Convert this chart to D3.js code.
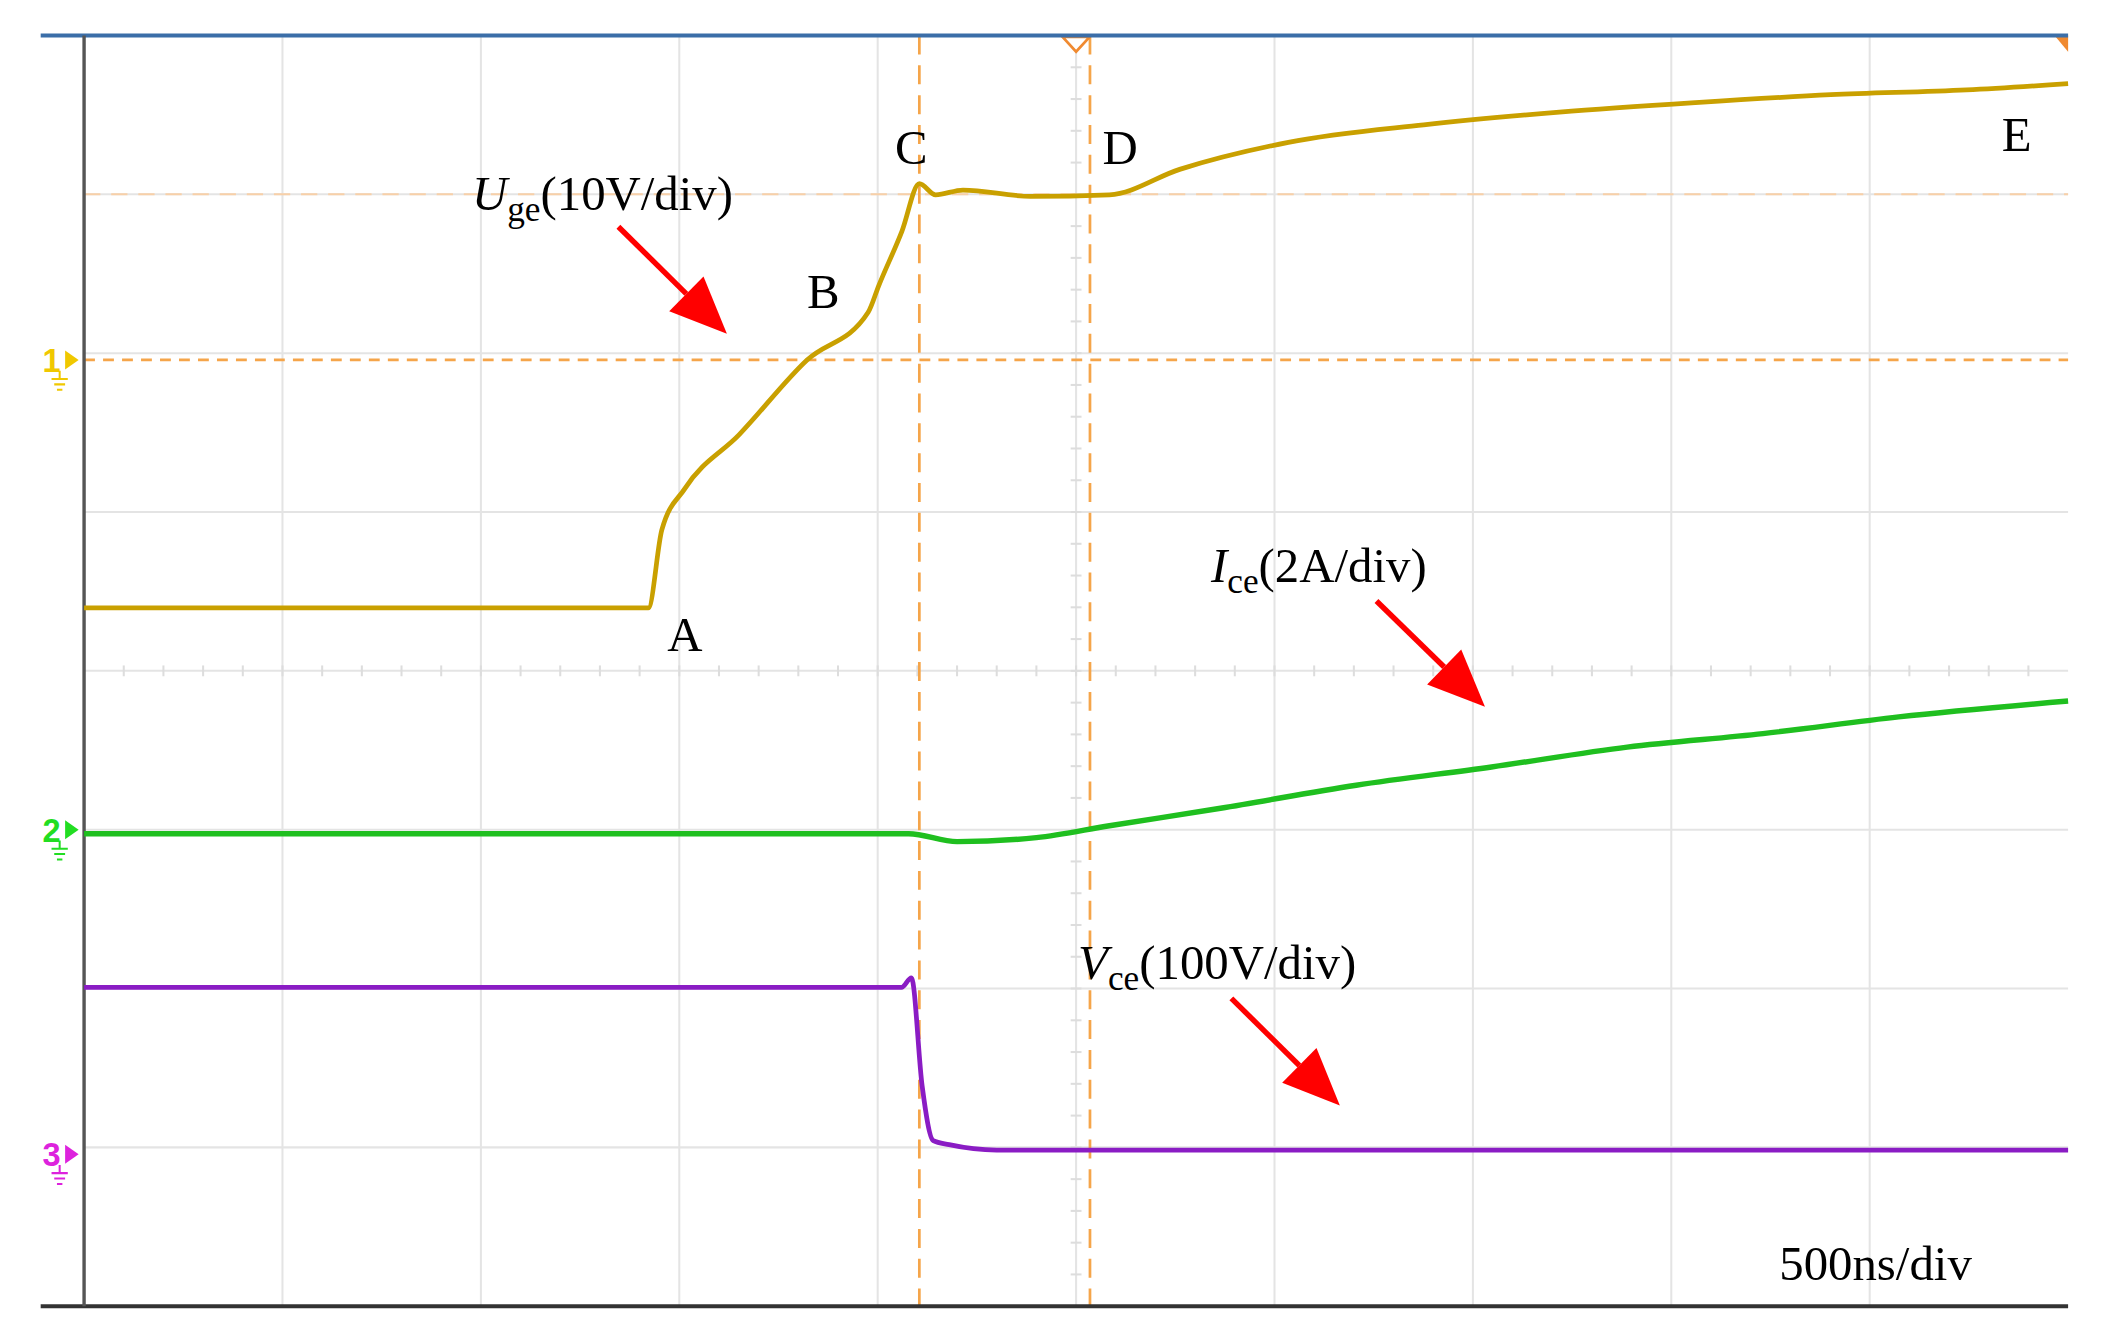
<!DOCTYPE html>
<html><head><meta charset="utf-8">
<script src="https://cdn.jsdelivr.net/npm/d3@7"></script>
<style>html,body{margin:0;background:#fff}</style></head>
<body><svg id="c" width="2102" height="1339" viewBox="0 0 1550 987"></svg>
<script>
// time in ns, values in physical units
const ugeT = [0,1422,1456,1514,1651,1822,1976,2003,2061,2105,2146,2215,2385,2584,2761,3035,3376,3718,4060,4402,4744,5000];
const ugeV = [-15.6,-15.6,-10.7,-8.1,-4.7,0,3.0,4.7,8.1,11.1,10.4,10.7,10.3,10.4,12.0,13.7,14.8,15.6,16.2,16.7,17.0,17.4];
const iceT = [0,2078,2200,2400,2584,2864,3206,3547,3889,4231,4573,5000];
const iceA = [-0.05,-0.05,-0.15,-0.1,0.05,0.27,0.56,0.79,1.04,1.21,1.42,1.62];
const vceT = [0,2060,2085,2112,2140,2180,2300,5000];
const vceV = [105,105,111,43,8.5,6,2.6,2.6];
const markLabels = ["A","B","C","D","E"];

const L=62,R=1525,T=26,B=963;
const svg=d3.select("#c");
const x=d3.scaleLinear().domain([0,5000]).range([L,R]);
const yDiv=d3.scaleLinear().domain([4,-4]).range([T,B]);
// ground offsets (in divisions from centre)
const g1=(494-265)/117, g2=(494-611)/117, g3=(494-850)/117;
const yU=v=>yDiv(g1+v/10), yI=a=>yDiv(g2+a/2), yV=v=>yDiv(g3+v/100);

const grid=svg.append("g").attr("stroke","#e4e4e4").attr("stroke-width",1.5);
d3.range(1,10).forEach(i=>grid.append("line").attr("x1",x(i*500)).attr("x2",x(i*500)).attr("y1",T).attr("y2",B));
d3.range(-3,4).forEach(i=>grid.append("line").attr("x1",L).attr("x2",R).attr("y1",yDiv(i)).attr("y2",yDiv(i)));
// minor ticks on centre lines
d3.range(0,50).forEach(i=>{svg.append("line").attr("x1",x(i*100)).attr("x2",x(i*100)).attr("y1",yDiv(0)-4).attr("y2",yDiv(0)+4).attr("stroke","#ddd").attr("stroke-width",1.5);});
d3.range(-20,20).forEach(i=>{svg.append("line").attr("x1",x(2500)-4).attr("x2",x(2500)+4).attr("y1",yDiv(i/5)).attr("y2",yDiv(i/5)).attr("stroke","#ddd").attr("stroke-width",1.5);});

// cursors
const cur="#f5a54a";
svg.append("line").attr("x1",L).attr("x2",R).attr("y1",143).attr("y2",143).attr("stroke","#f8d0a8").attr("stroke-width",1.5).attr("stroke-dasharray","12,8");
svg.append("line").attr("x1",L).attr("x2",R).attr("y1",yU(0)).attr("y2",yU(0)).attr("stroke",cur).attr("stroke-width",2).attr("stroke-dasharray","8,6");
[2105,2535].forEach(t=>svg.append("line").attr("x1",x(t)).attr("x2",x(t)).attr("y1",T).attr("y2",B).attr("stroke",cur).attr("stroke-width",2).attr("stroke-dasharray","14,8"));
svg.append("path").attr("d",`M${x(2500)-10},${T+1}L${x(2500)+10},${T+1}L${x(2500)},${T+12}Z`).attr("fill","#fff").attr("stroke","#f08a30").attr("stroke-width",2);
svg.append("path").attr("d",`M${R-10},${T}L${R},${T}L${R},${T+12}Z`).attr("fill","#f08a30");

// frame
svg.append("line").attr("x1",30).attr("x2",R).attr("y1",T).attr("y2",T).attr("stroke","#3b6ea8").attr("stroke-width",3);
svg.append("line").attr("x1",30).attr("x2",R).attr("y1",B).attr("y2",B).attr("stroke","#333").attr("stroke-width",3);
svg.append("line").attr("x1",L).attr("x2",L).attr("y1",T).attr("y2",B).attr("stroke","#555").attr("stroke-width",2.5);

const line=(tt,vv,fy)=>d3.line().x((d,i)=>x(tt[i])).y((d,i)=>fy(vv[i])).curve(d3.curveMonotoneX)(tt);
svg.append("path").attr("d",line(ugeT,ugeV,yU)).attr("fill","none").attr("stroke","#c9a000").attr("stroke-width",3.5);
svg.append("path").attr("d",line(iceT,iceA,yI)).attr("fill","none").attr("stroke","#1fbf1f").attr("stroke-width",4);
svg.append("path").attr("d",line(vceT,vceV,yV)).attr("fill","none").attr("stroke","#8a1cc4").attr("stroke-width",3.5);

// channel markers
[[1,yU(0),"#f0c800"],[2,yI(0),"#22dd22"],[3,yV(0),"#dd22dd"]].forEach(([n,y,c])=>{
  svg.append("text").attr("x",38).attr("y",y+9).attr("text-anchor","middle").attr("font-family","Liberation Sans").attr("font-size",24).attr("font-weight","bold").attr("fill",c).text(n);
  svg.append("path").attr("d",`M${48},${y-7}L${58},${y}L${48},${y+7}Z`).attr("fill",c);
  svg.append("path").attr("d",`M${38},${y+14}h12M${40},${y+18}h8M${42},${y+22}h4M44,${y+8}v6`).attr("stroke",c).attr("stroke-width",1.5);
});

// text
const serif="Liberation Serif, Times New Roman, serif";
const tx=(s,px,py,fs=36)=>svg.append("text").attr("x",px).attr("y",py).attr("font-family",serif).attr("font-size",fs).attr("fill","#000").text(s);
const pos=[[492,480],[595,227],[660,121],[813,121],[1476,111]];
markLabels.forEach((s,i)=>tx(s,pos[i][0],pos[i][1]));
function lab(main,sub,rest,px,py){const t=svg.append("text").attr("x",px).attr("y",py).attr("font-family",serif).attr("font-size",36);
  t.append("tspan").attr("font-style","italic").text(main);
  t.append("tspan").attr("font-size",26).attr("dy",8).text(sub);
  t.append("tspan").attr("dy",-8).text(rest);}
lab("U","ge","(10V/div)",348,155);
lab("I","ce","(2A/div)",893,429);
lab("V","ce","(100V/div)",795,722);
tx("500ns/div",1312,944);

// arrows
function arrow(x1,y1,x2,y2){const a=Math.atan2(y2-y1,x2-x1),h=42,w=18;
  const bx=x2-h*Math.cos(a),by=y2-h*Math.sin(a);
  svg.append("line").attr("x1",x1).attr("y1",y1).attr("x2",bx).attr("y2",by).attr("stroke","#f00").attr("stroke-width",4);
  svg.append("path").attr("d",`M${x2},${y2}L${bx+w*Math.sin(a)},${by-w*Math.cos(a)}L${bx-w*Math.sin(a)},${by+w*Math.cos(a)}Z`).attr("fill","#f00");}
arrow(456,167,536,246);arrow(1015,443,1095,521);arrow(908,736,988,815);
</script></body></html>
